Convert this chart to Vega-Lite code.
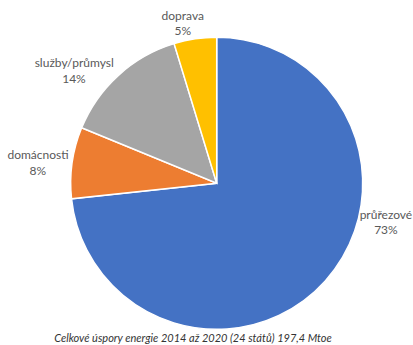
{
  "$schema": "https://vega.github.io/schema/vega-lite/v6.json",
  "width": 300,
  "height": 300,
  "autosize": {"type": "none"},
  "padding": {"left": 66.7, "top": 33.3, "right": 46.3, "bottom": 11.7},
  "background": "white",
  "config": {"view": {"stroke": null}},
  "title": {
    "text": "Celkové úspory energie 2014 až 2020 (24 států) 197,4 Mtoe",
    "orient": "bottom",
    "font": "Lato",
    "fontSize": 11,
    "fontStyle": "italic",
    "fontWeight": "normal",
    "color": "#333333",
    "dx": -23.7,
    "offset": 0
  },
  "data": {
    "values": [
      {"kategorie": "průřezové", "hodnota": 144.7, "podil": "73%", "poradi": 1},
      {"kategorie": "domácnosti", "hodnota": 15.6, "podil": "8%", "poradi": 2},
      {"kategorie": "služby/průmysl", "hodnota": 27.8, "podil": "14%", "poradi": 3},
      {"kategorie": "doprava", "hodnota": 9.3, "podil": "5%", "poradi": 4}
    ]
  },
  "encoding": {
    "theta": {"field": "hodnota", "type": "quantitative", "stack": true},
    "order": {"field": "poradi", "type": "quantitative"}
  },
  "layer": [
    {
      "mark": {"type": "arc", "outerRadius": 146, "stroke": "white", "strokeWidth": 1.5},
      "encoding": {
        "color": {
          "field": "kategorie",
          "type": "nominal",
          "scale": {
            "domain": ["průřezové", "domácnosti", "služby/průmysl", "doprava"],
            "range": ["#4472C4", "#ED7D31", "#A5A5A5", "#FFC000"]
          },
          "legend": null
        }
      }
    },
    {
      "mark": {"type": "text", "radius": 165, "dx": 46.5, "dy": -78.5, "font": "Lato", "fontSize": 12, "fill": "#595959"},
      "encoding": {
        "detail": {"field": "kategorie", "type": "nominal"},
        "text": {"condition": {"test": "datum.kategorie === 'průřezové'", "field": "kategorie", "type": "nominal"}, "value": ""}
      }
    },
    {
      "mark": {"type": "text", "radius": 165, "dx": 46.5, "dy": -64, "font": "Lato", "fontSize": 12, "fill": "#595959"},
      "encoding": {
        "detail": {"field": "kategorie", "type": "nominal"},
        "text": {"condition": {"test": "datum.kategorie === 'průřezové'", "field": "podil", "type": "nominal"}, "value": ""}
      }
    },
    {
      "mark": {"type": "text", "radius": 165, "dx": -15.3, "dy": -5.1, "font": "Lato", "fontSize": 12, "fill": "#595959"},
      "encoding": {
        "detail": {"field": "kategorie", "type": "nominal"},
        "text": {"condition": {"test": "datum.kategorie === 'domácnosti'", "field": "kategorie", "type": "nominal"}, "value": ""}
      }
    },
    {
      "mark": {"type": "text", "radius": 165, "dx": -15.6, "dy": 10.9, "font": "Lato", "fontSize": 12, "fill": "#595959"},
      "encoding": {
        "detail": {"field": "kategorie", "type": "nominal"},
        "text": {"condition": {"test": "datum.kategorie === 'domácnosti'", "field": "podil", "type": "nominal"}, "value": ""}
      }
    },
    {
      "mark": {"type": "text", "radius": 165, "dx": -31.4, "dy": 2.1, "font": "Lato", "fontSize": 12, "fill": "#595959"},
      "encoding": {
        "detail": {"field": "kategorie", "type": "nominal"},
        "text": {"condition": {"test": "datum.kategorie === 'služby/průmysl'", "field": "kategorie", "type": "nominal"}, "value": ""}
      }
    },
    {
      "mark": {"type": "text", "radius": 165, "dx": -31.7, "dy": 17.8, "font": "Lato", "fontSize": 12, "fill": "#595959"},
      "encoding": {
        "detail": {"field": "kategorie", "type": "nominal"},
        "text": {"condition": {"test": "datum.kategorie === 'služby/průmysl'", "field": "podil", "type": "nominal"}, "value": ""}
      }
    },
    {
      "mark": {"type": "text", "radius": 165, "dx": -9.6, "dy": -4.1, "font": "Lato", "fontSize": 12, "fill": "#595959"},
      "encoding": {
        "detail": {"field": "kategorie", "type": "nominal"},
        "text": {"condition": {"test": "datum.kategorie === 'doprava'", "field": "kategorie", "type": "nominal"}, "value": ""}
      }
    },
    {
      "mark": {"type": "text", "radius": 165, "dx": -9.6, "dy": 10.9, "font": "Lato", "fontSize": 12, "fill": "#595959"},
      "encoding": {
        "detail": {"field": "kategorie", "type": "nominal"},
        "text": {"condition": {"test": "datum.kategorie === 'doprava'", "field": "podil", "type": "nominal"}, "value": ""}
      }
    }
  ]
}
